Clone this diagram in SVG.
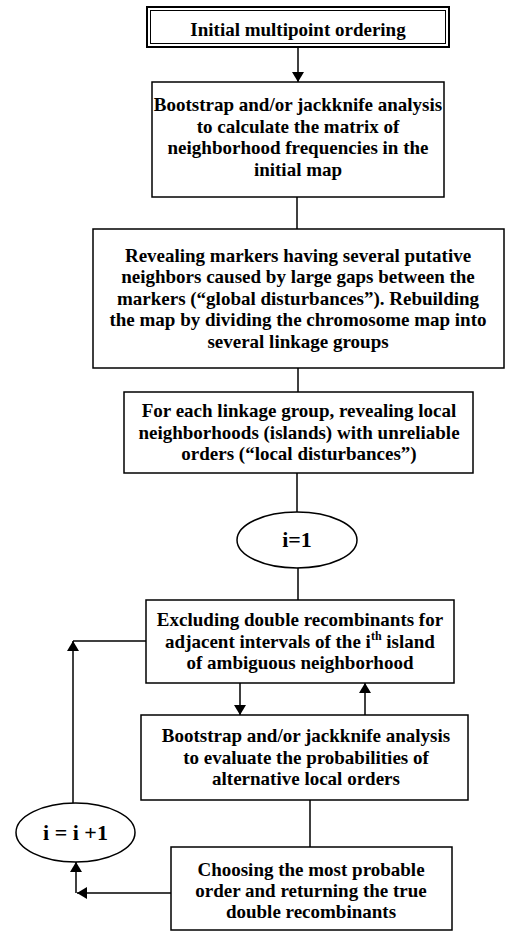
<svg xmlns="http://www.w3.org/2000/svg" width="509" height="932" viewBox="0 0 509 932">
<style>
.box{fill:#fff;stroke:#000;stroke-width:1.5}
.ln{fill:none;stroke:#000;stroke-width:1.5}
.t{font-family:"Liberation Serif","Times New Roman",serif;font-weight:bold;font-size:19px;fill:#000;text-anchor:middle}
.e{font-size:22px}
</style>
<defs>
<marker id="ah" viewBox="0 0 10 12" refX="10" refY="6" markerWidth="10" markerHeight="12" markerUnits="userSpaceOnUse" orient="auto">
<path d="M0,0 L10,6 L0,12 Z" fill="#000"/>
</marker>
</defs>
<rect width="509" height="932" fill="#fff"/>
<g id="connectors">
<line class="ln" x1="298" y1="47" x2="298" y2="82" marker-end="url(#ah)"/>
<line class="ln" x1="297" y1="197" x2="297" y2="229"/>
<line class="ln" x1="298" y1="368" x2="298" y2="392"/>
<line class="ln" x1="297" y1="473" x2="297" y2="512"/>
<line class="ln" x1="298" y1="568" x2="298" y2="600"/>
<line class="ln" x1="240" y1="683" x2="240" y2="715" marker-end="url(#ah)"/>
<line class="ln" x1="365" y1="715" x2="365" y2="683" marker-end="url(#ah)"/>
<line class="ln" x1="310" y1="800" x2="310" y2="847"/>
<line class="ln" x1="171" y1="893" x2="77" y2="893" marker-end="url(#ah)"/>
<line class="ln" x1="76" y1="893" x2="76" y2="862" marker-end="url(#ah)"/>
<line class="ln" x1="73" y1="803" x2="73" y2="641" marker-end="url(#ah)"/>
<line class="ln" x1="73" y1="641" x2="146" y2="641"/>
</g>
<g id="n1">
<rect x="147" y="7" width="302" height="40" fill="#fff" stroke="#000" stroke-width="2"/>
<rect x="150.5" y="10.5" width="295" height="33" fill="none" stroke="#000" stroke-width="1"/>
<text class="t" x="298" y="36">Initial multipoint ordering</text>
</g>
<g id="n2">
<rect class="box" x="152" y="82" width="292" height="115"/>
<text class="t" x="298" y="111">Bootstrap and/or jackknife analysis</text>
<text class="t" x="298" y="132.5">to calculate the matrix of</text>
<text class="t" x="298" y="154">neighborhood frequencies in the</text>
<text class="t" x="298" y="175.5">initial map</text>
</g>
<g id="n3">
<rect class="box" x="93" y="229" width="411" height="139"/>
<text class="t" x="298" y="261.5">Revealing markers having several putative</text>
<text class="t" x="298" y="283">neighbors caused by large gaps between the</text>
<text class="t" x="298" y="304.5">markers (“global disturbances”). Rebuilding</text>
<text class="t" x="298" y="326">the map by dividing the chromosome map into</text>
<text class="t" x="298" y="347.5">several linkage groups</text>
</g>
<g id="n4">
<rect class="box" x="124" y="392" width="349" height="81"/>
<text class="t" x="299" y="417">For each linkage group, revealing local</text>
<text class="t" x="299" y="438.5">neighborhoods (islands) with unreliable</text>
<text class="t" x="299" y="460">orders (“local disturbances”)</text>
</g>
<g id="n5">
<ellipse class="box" cx="297" cy="540" rx="60" ry="28"/>
<text class="t e" x="297" y="547">i=1</text>
</g>
<g id="n6">
<rect class="box" x="146" y="600" width="308" height="83"/>
<text class="t" x="300" y="626">Excluding double recombinants for</text>
<text class="t" x="300" y="647.5">adjacent intervals of the i<tspan font-size="12" dy="-8">th</tspan><tspan dy="8">  island</tspan></text>
<text class="t" x="300" y="669">of ambiguous neighborhood</text>
</g>
<g id="n7">
<rect class="box" x="141" y="715" width="327" height="85"/>
<text class="t" x="306" y="742">Bootstrap and/or jackknife analysis</text>
<text class="t" x="306" y="763.5">to evaluate the probabilities of</text>
<text class="t" x="306" y="785">alternative local orders</text>
</g>
<g id="n8">
<rect class="box" x="171" y="847" width="281" height="83"/>
<text class="t" x="311" y="876">Choosing the most probable</text>
<text class="t" x="311" y="897">order and returning the true</text>
<text class="t" x="311" y="918">double recombinants</text>
</g>
<g id="n9">
<ellipse class="box" cx="75.5" cy="832.5" rx="59.5" ry="29.5"/>
<text class="t e" x="75.5" y="840">i = i +1</text>
</g>
</svg>
